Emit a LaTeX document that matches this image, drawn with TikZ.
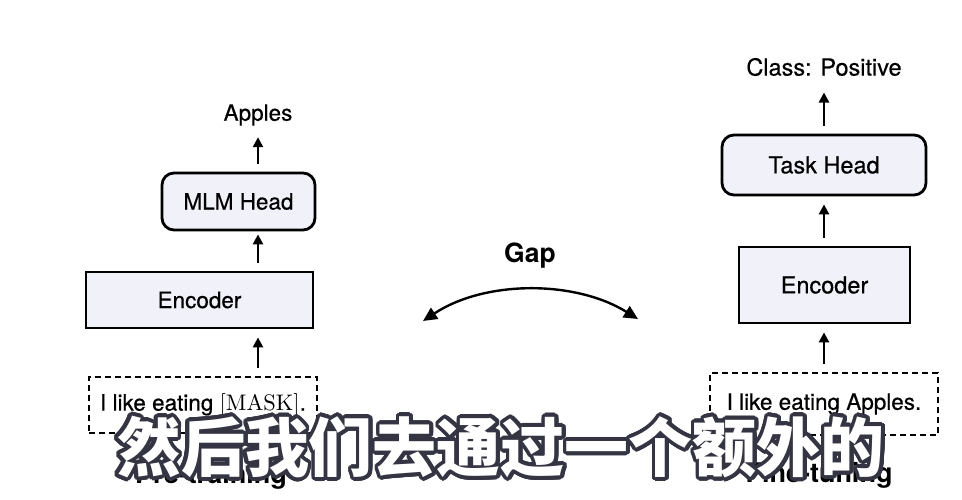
\documentclass[tikz,border=0pt]{standalone}
\usepackage{fontspec}
\setmainfont{TeX Gyre Heros}[UprightFeatures={FakeBold=0.5}]
\newfontfamily\cjk{Noto Sans CJK SC}
\newfontfamily\maskfont{lmroman10-regular.otf}
\usetikzlibrary{arrows.meta, calc}
\definecolor{boxfill}{RGB}{241,241,250}
\definecolor{subedge}{RGB}{52,52,66}
\newcommand\subtext{然后我们去通过一个额外的}

\begin{document}
\begin{tikzpicture}[x=1pt, y=-1pt,
	every node/.style={font=\fontsize{22.5}{26}\selectfont},
	bigtext/.style={font=\fontsize{23.5}{27}\selectfont},
	headbox/.style={draw, line width=2.8pt, rounded corners=12pt, fill=boxfill},
	encbox/.style={draw, line width=2.8pt, fill=boxfill},
	inbox/.style={draw, line width=2pt, dash pattern=on 6pt off 4pt},
	arr/.style={line width=2.4pt, -{Triangle[length=10pt,width=10pt]},
	            shorten <=8pt, shorten >=8pt},
	phase/.style={font=\fontsize{27}{30}\selectfont\bfseries, anchor=base},
	subtitle/.style={font=\fontsize{64}{70}\selectfont\cjk\bfseries, inner sep=0pt}]
	\path[fill=white, use as bounding box] (0,0) rectangle (962,500);

	\node (applesL) at (258,115) {Apples};
	\node[headbox, minimum width=153pt, minimum height=57pt] (mlm) at (238.5,201.5) {MLM Head};
	\node[encbox, minimum width=227pt, minimum height=56pt] (encL) at (199.5,300) {Encoder};
	\node[inbox, minimum width=228pt, minimum height=56pt] (inL) at (203,405)
	  {I like eating {\maskfont[MASK]}.};
	\node[phase] (pre) at (211,483) {Pre-training};

	\draw[arr] (inL.north -| applesL) -- (encL.south -| applesL);
	\draw[arr, shorten >=3pt] (encL.north -| applesL) -- (mlm.south -| applesL);
	\draw[arr] (mlm.north -| applesL) -- (applesL);

	\node[bigtext] (cls) at (824,67) {Class: Positive};
	\node[headbox, bigtext, minimum width=204pt, minimum height=60pt] (task) at (824,165) {Task Head};
	\node[encbox, bigtext, minimum width=171pt, minimum height=76pt] (encR) at (824.5,285) {Encoder};
	\node[inbox, minimum width=228pt, minimum height=62pt] (inR) at (824,404)
	  {I like eating Apples.};
	\node[phase] (fine) at (819,482) {Fine-tuning};

	\draw[arr] (inR.north) -- (inR.north |- encR.south);
	\draw[arr] (inR.north |- encR.north) -- (inR.north |- task.south);
	\draw[arr, shorten >=13pt] (inR.north |- task.north) -- (inR.north |- cls.south);

	\node[font=\fontsize{26.5}{30}\selectfont\bfseries, anchor=base] (gap) at (530,262) {Gap};
	\coordinate (gapL) at (423,321);
	\coordinate (gapR) at (638,319);
	\draw[line width=2.4pt,
	      {Triangle[length=14pt,width=13pt]}-{Triangle[length=14pt,width=13pt]}]
	  (gapL) .. controls (485,280) and (575,280) .. (gapR);

	\coordinate (sub) at (501,447);
	\foreach \ang in {0,15,...,345}
	  \node[subtitle, text=subedge] at ($(sub)+(\ang:3.8)$) {\subtext};
	\node[subtitle, text=white] (subline) at (sub) {\subtext};
\end{tikzpicture}
\end{document}
